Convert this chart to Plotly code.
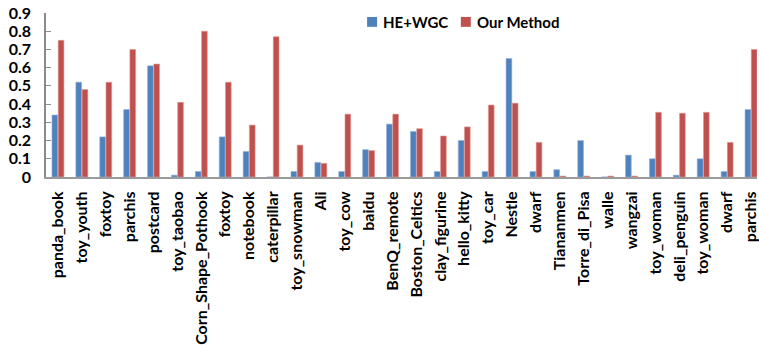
import plotly.graph_objects as go

# Objects (x-axis categories)
categories = [
    "panda_book", "toy_youth", "foxtoy", "parchis", "postcard", "toy_taobao",
    "Corn_Shape_Pothook", "foxtoy", "notebook", "caterpillar", "toy_snowman",
    "Ali", "toy_cow", "baidu", "BenQ_remote", "Boston_Celtics", "clay_figurine",
    "hello_kitty", "toy_car", "Nestle", "dwarf", "Tiananmen", "Torre_di_Pisa",
    "walle", "wangzai", "toy_woman", "deli_penguin", "toy_woman", "dwarf", "parchis",
]

# Scores per object for each method
he_wgc = [
    0.34, 0.52, 0.22, 0.37, 0.61, 0.01, 0.03, 0.22, 0.14, 0.0,
    0.03, 0.08, 0.03, 0.15, 0.29, 0.25, 0.03, 0.20, 0.03, 0.65,
    0.03, 0.04, 0.20, 0.0, 0.12, 0.10, 0.01, 0.10, 0.03, 0.37,
]
our_method = [
    0.75, 0.48, 0.52, 0.70, 0.62, 0.41, 0.80, 0.52, 0.285, 0.77,
    0.175, 0.075, 0.345, 0.145, 0.345, 0.265, 0.225, 0.275, 0.395, 0.405,
    0.19, 0.005, 0.005, 0.005, 0.005, 0.355, 0.35, 0.355, 0.19, 0.70,
]

y_ticks = [0, 0.1, 0.2, 0.3, 0.4, 0.5, 0.6, 0.7, 0.8, 0.9]
y_tick_text = ["0", "0.1", "0.2", "0.3", "0.4", "0.5", "0.6", "0.7", "0.8", "0.9"]

series_names = ["HE+WGC", "Our Method"]
BLUE = "#4F81BD"
RED = "#C0504D"

FONT = "Lato"

x_idx = list(range(len(categories)))

fig = go.Figure()
fig.add_trace(go.Bar(
    x=x_idx, y=he_wgc, name=series_names[0],
    marker=dict(color=BLUE, line=dict(color="#8DAFD8", width=0.6)),
))
fig.add_trace(go.Bar(
    x=x_idx, y=our_method, name=series_names[1],
    marker=dict(color=RED, line=dict(color="#DE9896", width=0.6)),
))

# Legend drawn as colored squares + bold labels across the top
legend_items = [(series_names[0], BLUE, 368), (series_names[1], RED, 462)]
W, H = 759, 345
L, R, T, B = 46, 0, 13, 166
pw, ph = W - L - R, H - T - B
for name, col, px in legend_items:
    x0 = (px - L) / pw
    x1 = (px + 10 - L) / pw
    yc = 1 - (22 - T) / ph
    fig.add_shape(type="rect", xref="paper", yref="paper",
                  x0=x0, x1=x1, y0=yc - 5 / ph, y1=yc + 5 / ph,
                  fillcolor=col, line=dict(width=0))
    fig.add_annotation(xref="paper", yref="paper", x=(px + 14 - L) / pw, y=yc,
                       text=f"<b>{name}</b>", showarrow=False,
                       xanchor="left", yanchor="middle",
                       font=dict(family=FONT, size=15, color="#000"))

fig.update_layout(
    width=W, height=H,
    margin=dict(l=L, r=R, t=T, b=B, pad=0),
    paper_bgcolor="white", plot_bgcolor="white",
    barmode="group", bargap=0.48, bargroupgap=0.08,
    showlegend=False,
    font=dict(family=FONT, size=15, color="#000"),
)
fig.update_xaxes(
    range=[-0.5, 29.25],
    tickmode="array", tickvals=x_idx,
    ticktext=[f"<b>{c}</b>" for c in categories],
    tickangle=-90, ticks="", showgrid=False,
    showline=True, linecolor="#9a9a9a", linewidth=2,
    ticklabelstandoff=6, ticklabeloverflow="allow",
    tickfont=dict(family=FONT, size=16, color="#000"),
    fixedrange=True,
)
fig.update_yaxes(
    range=[0, 0.9],
    tickmode="array", tickvals=y_ticks,
    ticktext=[f"<b>{t}</b>" for t in y_tick_text],
    ticks="inside", ticklen=5, tickcolor="#8a8a8a", tickwidth=1,
    showgrid=False, zeroline=False,
    showline=True, linecolor="#8a8a8a", linewidth=1.5,
    ticklabelstandoff=10,
    tickfont=dict(family=FONT, size=16, color="#000"),
    fixedrange=True,
)

fig.write_html("out.html")
